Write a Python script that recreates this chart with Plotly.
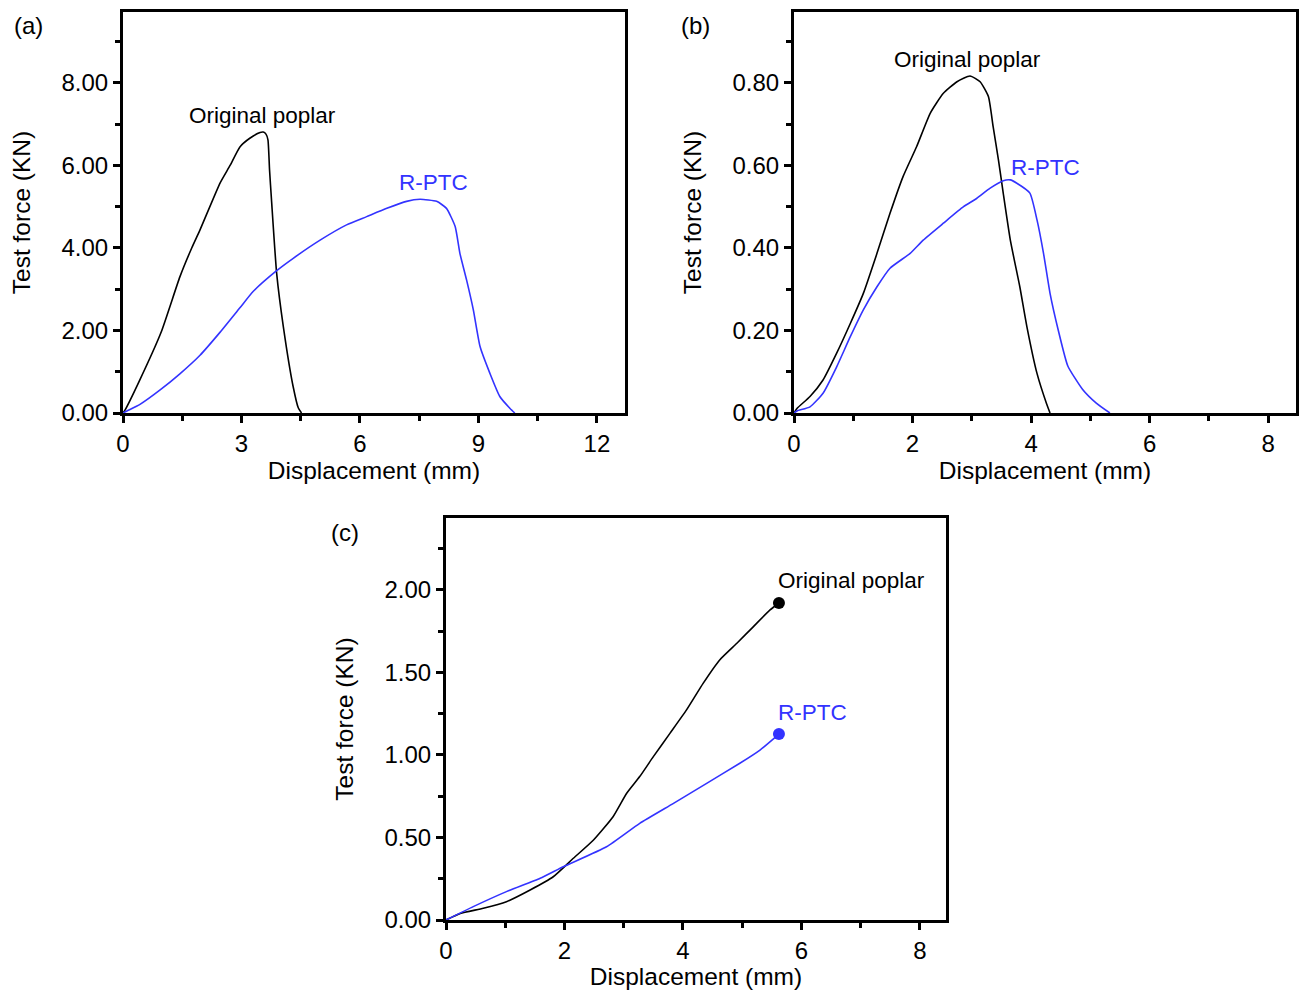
import plotly.graph_objects as go

# ---------------- data ----------------
# (a)
a_orig_x = [0, 0.05, 0.40, 0.97, 1.44, 1.74, 1.95, 2.46, 2.71, 2.96, 3.21, 3.47, 3.55, 3.62, 3.67, 3.71, 3.76, 3.89, 4.06, 4.31, 4.44, 4.52]
a_orig_y = [0, 0.07, 0.75, 1.97, 3.30, 4.00, 4.44, 5.58, 6.00, 6.45, 6.66, 6.80, 6.81, 6.76, 6.62, 5.90, 5.16, 3.39, 2.09, 0.63, 0.12, 0.0]
a_rptc_x = [0, 0.10, 0.43, 0.94, 1.44, 1.95, 2.46, 2.96, 3.30, 3.89, 4.31, 4.99, 5.66, 6.17, 6.68, 7.18, 7.52, 7.94, 8.19, 8.41, 8.53, 8.70, 8.87, 9.04, 9.29, 9.54, 9.80, 9.92]
a_rptc_y = [0, 0.05, 0.21, 0.56, 0.95, 1.40, 1.96, 2.55, 2.95, 3.45, 3.75, 4.19, 4.56, 4.76, 4.96, 5.13, 5.18, 5.13, 4.96, 4.52, 3.87, 3.22, 2.50, 1.61, 0.96, 0.40, 0.11, 0.0]

# (b)
b_orig_x = [0, 0.05, 0.27, 0.49, 0.72, 0.95, 1.17, 1.40, 1.62, 1.84, 2.07, 2.30, 2.52, 2.75, 2.97, 3.14, 3.28, 3.36, 3.45, 3.53, 3.65, 3.81, 3.93, 4.10, 4.26, 4.32]
b_orig_y = [0, 0.011, 0.040, 0.080, 0.145, 0.217, 0.290, 0.387, 0.484, 0.573, 0.646, 0.727, 0.775, 0.803, 0.817, 0.803, 0.767, 0.694, 0.613, 0.533, 0.419, 0.306, 0.209, 0.096, 0.023, 0.0]
b_rptc_x = [0, 0.05, 0.27, 0.49, 0.72, 0.95, 1.17, 1.40, 1.62, 1.96, 2.18, 2.52, 2.86, 3.08, 3.31, 3.53, 3.65, 3.76, 3.98, 4.10, 4.21, 4.32, 4.46, 4.62, 4.87, 5.10, 5.33]
b_rptc_y = [0, 0.005, 0.015, 0.048, 0.112, 0.185, 0.250, 0.306, 0.351, 0.387, 0.419, 0.460, 0.500, 0.520, 0.545, 0.563, 0.565, 0.557, 0.533, 0.468, 0.387, 0.290, 0.200, 0.114, 0.057, 0.024, 0.0]

# (c)
c_orig_x = [0, 0.24, 0.63, 1.02, 1.42, 1.81, 2.15, 2.49, 2.82, 3.05, 3.27, 3.50, 3.78, 4.06, 4.34, 4.62, 4.91, 5.19, 5.47, 5.62]
c_orig_y = [0, 0.04, 0.071, 0.111, 0.182, 0.262, 0.374, 0.485, 0.626, 0.768, 0.869, 0.990, 1.131, 1.273, 1.434, 1.576, 1.677, 1.778, 1.879, 1.921]
c_rptc_x = [0, 0.46, 1.02, 1.59, 1.98, 2.71, 3.27, 3.84, 4.40, 4.96, 5.30, 5.62]
c_rptc_y = [0, 0.081, 0.172, 0.253, 0.323, 0.444, 0.586, 0.707, 0.828, 0.950, 1.030, 1.127]

series_names = ["Original poplar", "R-PTC"]
panel_labels = ["(a)", "(b)", "(c)"]
x_title = "Displacement (mm)"
y_title = "Test force (KN)"

BLACK = "#000000"
BLUE = "#3333ff"
FONT = "Liberation Sans, Arial, sans-serif"

fig = go.Figure()

def line(x, y, color, xa, ya, name):
    fig.add_trace(go.Scatter(x=x, y=y, mode="lines", name=name,
                             line=dict(color=color, width=1.6, shape="spline", smoothing=0.5),
                             xaxis=xa, yaxis=ya, showlegend=False))

line(a_orig_x, a_orig_y, BLACK, "x", "y", series_names[0])
line(a_rptc_x, a_rptc_y, BLUE, "x", "y", series_names[1])
line(b_orig_x, b_orig_y, BLACK, "x2", "y2", series_names[0])
line(b_rptc_x, b_rptc_y, BLUE, "x2", "y2", series_names[1])
line(c_orig_x, c_orig_y, BLACK, "x3", "y3", series_names[0])
line(c_rptc_x, c_rptc_y, BLUE, "x3", "y3", series_names[1])
# end markers in (c)
fig.add_trace(go.Scatter(x=[c_orig_x[-1]], y=[c_orig_y[-1]], mode="markers",
                         marker=dict(color=BLACK, size=12), xaxis="x3", yaxis="y3", showlegend=False))
fig.add_trace(go.Scatter(x=[c_rptc_x[-1]], y=[c_rptc_y[-1]], mode="markers",
                         marker=dict(color=BLUE, size=12), xaxis="x3", yaxis="y3", showlegend=False))

W, H = 1300, 990

def px_x(p):
    return p / W

def px_y(p):
    return 1 - p / H

def axis(domain, rng, dtick, minor_dtick, fmt, anchor, title, standoff):
    return dict(domain=domain, range=rng, anchor=anchor,
                showline=True, linewidth=3, linecolor="black", mirror=True,
                ticks="outside", ticklen=7, tickwidth=2.5, tickcolor="black",
                dtick=dtick, tick0=0, tickformat=fmt,
                minor=dict(ticks="outside", ticklen=5, tickwidth=2.5, tickcolor="black",
                           dtick=minor_dtick, tick0=0, showgrid=False),
                showgrid=False, zeroline=False, automargin=False,
                tickfont=dict(size=24, color="black", family=FONT),
                title=dict(text=title, font=dict(size=24.5, color="black", family=FONT), standoff=standoff))

fig.update_layout(
    width=W, height=H,
    margin=dict(l=0, r=0, t=0, b=0),
    paper_bgcolor="white", plot_bgcolor="white",
    font=dict(family=FONT, color="black"),
    xaxis=axis([px_x(123), px_x(625)], [0, 12.71], 3, 1.5, "d", "y", x_title, 2),
    yaxis=axis([px_y(413), px_y(12)], [0, 9.72], 2, 1, ".2f", "x", y_title, 24),
    xaxis2=axis([px_x(794), px_x(1296)], [0, 8.47], 2, 1, "d", "y2", x_title, 2),
    yaxis2=axis([px_y(413), px_y(12)], [0, 0.972], 0.2, 0.1, ".2f", "x2", y_title, 24),
    xaxis3=axis([px_x(446), px_x(946)], [0, 8.44], 2, 1, "d", "y3", x_title, 2),
    yaxis3=axis([px_y(920), px_y(518)], [0, 2.436], 0.5, 0.25, ".2f", "x3", y_title, 24),
)

ann_font = dict(size=22.5, family=FONT)
lbl_font = dict(size=24, family=FONT, color=BLACK)
common = dict(showarrow=False, xanchor="center", yanchor="middle")
anns = [
    # panel labels
    dict(text=panel_labels[0], x=px_x(28), y=px_y(25), xref="paper", yref="paper", font=lbl_font, **common),
    dict(text=panel_labels[1], x=px_x(695), y=px_y(25), xref="paper", yref="paper", font=lbl_font, **common),
    dict(text=panel_labels[2], x=px_x(345), y=px_y(532), xref="paper", yref="paper", font=lbl_font, **common),
    # series labels
    dict(text=series_names[0], x=3.54, y=7.22, xref="x", yref="y", font=dict(color=BLACK, **ann_font), **common),
    dict(text=series_names[1], x=7.85, y=5.58, xref="x", yref="y", font=dict(color=BLUE, **ann_font), **common),
    dict(text=series_names[0], x=2.92, y=0.858, xref="x2", yref="y2", font=dict(color=BLACK, **ann_font), **common),
    dict(text=series_names[1], x=4.25, y=0.596, xref="x2", yref="y2", font=dict(color=BLUE, **ann_font), **common),
    dict(text=series_names[0], x=6.85, y=2.055, xref="x3", yref="y3", font=dict(color=BLACK, **ann_font), **common),
    dict(text=series_names[1], x=6.18, y=1.255, xref="x3", yref="y3", font=dict(color=BLUE, **ann_font), **common),
]
fig.update_layout(annotations=anns)

# remove the default page margin so the figure sits at the window's top-left corner
fig.write_html("out.html", config={"displayModeBar": False},
               post_script="document.body.style.margin='0px';document.body.style.overflow='hidden';")
